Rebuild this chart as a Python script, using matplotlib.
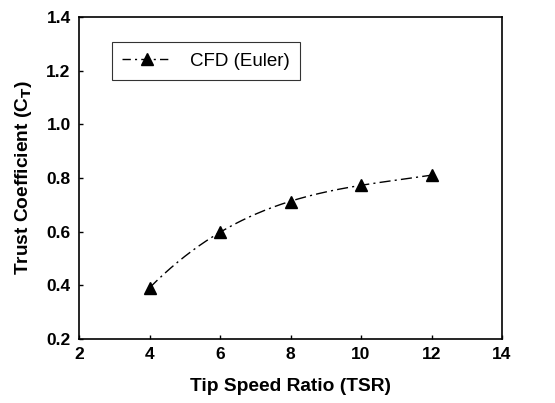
import numpy as np
import matplotlib
matplotlib.use("Agg")
import matplotlib.pyplot as plt

# data
tsr = [4, 6, 8, 10, 12]
ct = [0.39, 0.60, 0.71, 0.775, 0.81]

plt.rcParams['font.family'] = ['Liberation Sans', 'DejaVu Sans']

fig = plt.figure(figsize=(5.55, 4.03), dpi=100)
ax = fig.add_axes([79 / 555, 1 - 339 / 403, (502 - 79) / 555, (339 - 17) / 403])

# smooth curve through the points (drawing only)
coef = np.polyfit(tsr, ct, 3)
xs = np.linspace(tsr[0], tsr[-1], 200)
ax.plot(xs, np.polyval(coef, xs), color='black', lw=1.0,
        linestyle=(0, (8, 3, 1.5, 3)))
ax.plot(tsr, ct, linestyle='none', marker='^', color='black', ms=8)

# legend proxy
ax.plot([], [], color='black', lw=1.0, linestyle=(0, (6, 3, 1.5, 3)),
        marker='^', ms=8, label='CFD (Euler)')
leg = ax.legend(loc='upper left', bbox_to_anchor=(0.078, 0.922),
                borderaxespad=0, fontsize=13.5, frameon=True, fancybox=False,
                edgecolor='black', handlelength=2.6, borderpad=0.55,
                handletextpad=1.0)
leg.get_frame().set_linewidth(0.8)

ax.set_xlim(2, 14)
ax.set_ylim(0.2, 1.4)
ax.set_xticks([2, 4, 6, 8, 10, 12, 14])
ax.set_yticks([0.2, 0.4, 0.6, 0.8, 1.0, 1.2, 1.4])
ax.set_yticklabels(['0.2', '0.4', '0.6', '0.8', '1.0', '1.2', '1.4'])
ax.tick_params(direction='in', length=3, width=1, labelsize=12.5, pad=6)
for lab in ax.get_xticklabels() + ax.get_yticklabels():
    lab.set_fontweight('bold')
for s in ax.spines.values():
    s.set_linewidth(1.2)

ax.set_xlabel('Tip Speed Ratio (TSR)', fontsize=13.8, fontweight='bold', labelpad=11)
ax.set_ylabel('Trust Coefficient (C$_\\mathbf{T}$)', fontsize=13.8, fontweight='bold', labelpad=9)

plt.savefig('out.png', dpi=100)
